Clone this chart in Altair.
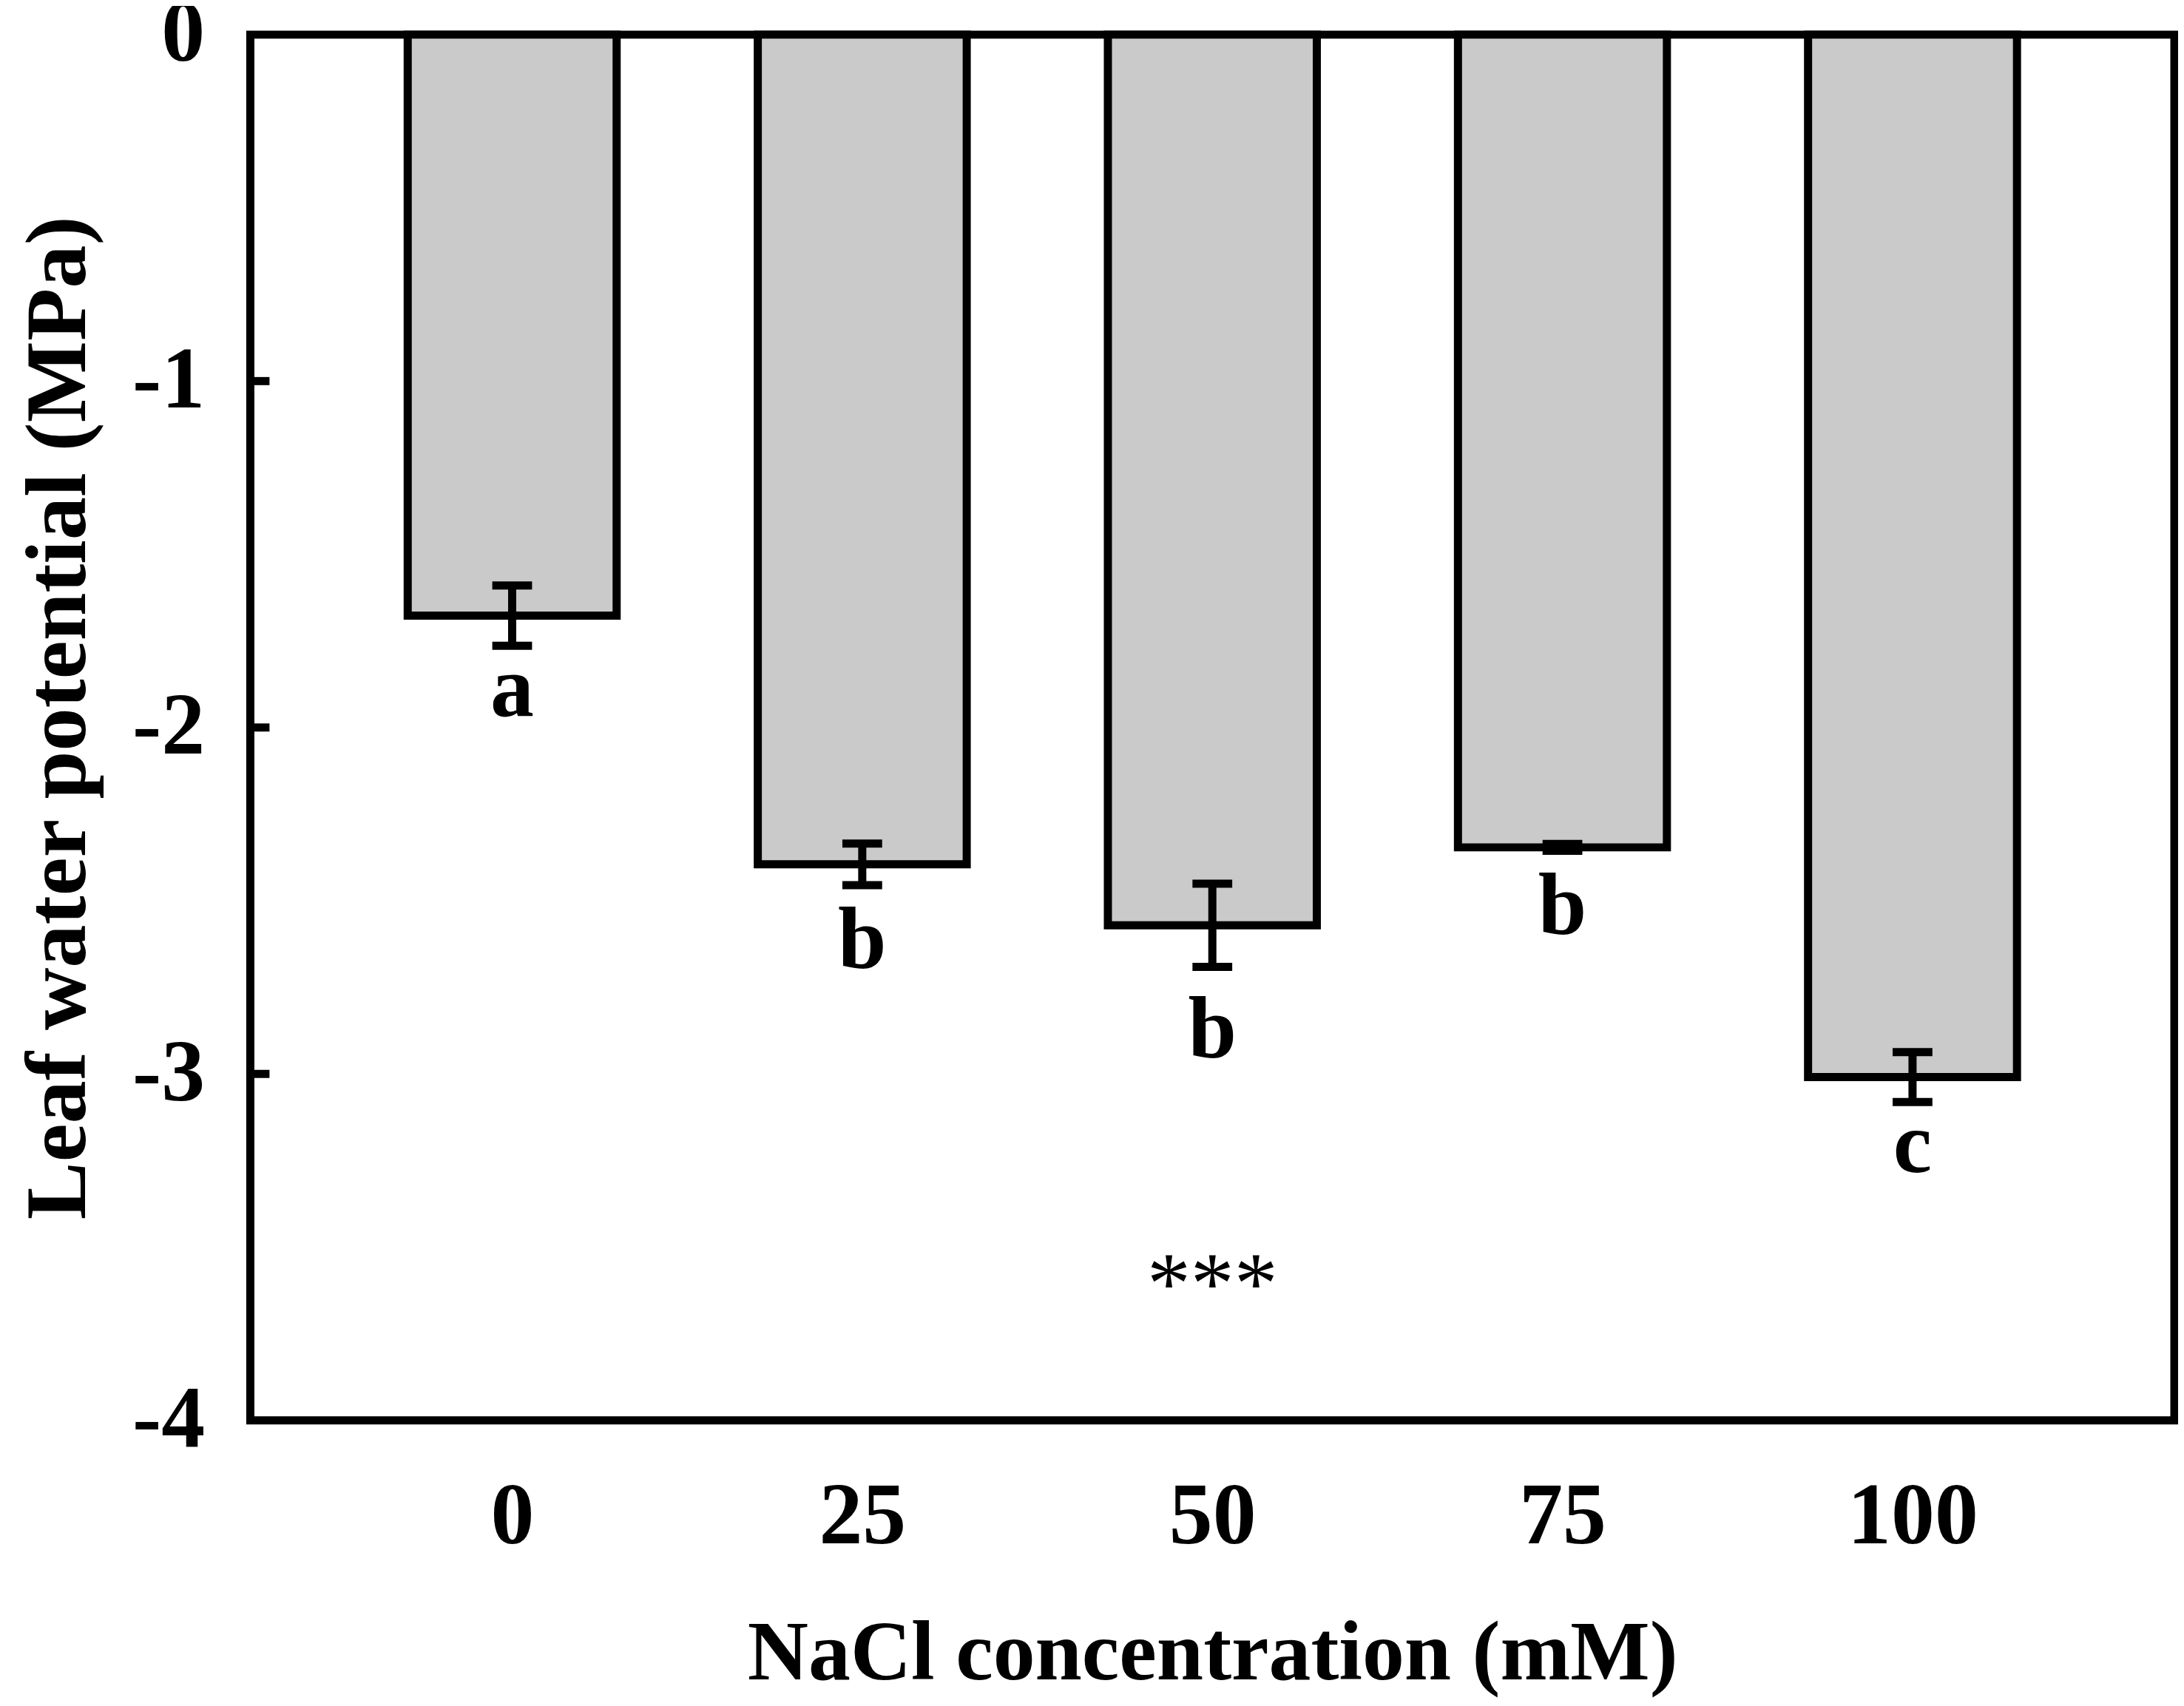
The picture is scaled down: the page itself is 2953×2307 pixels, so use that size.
import altair as alt
import pandas as pd

# ---- data ----
conc = [0, 25, 50, 75, 100]
mean = [-1.677, -2.395, -2.571, -2.346, -3.009]
err = [0.087, 0.060, 0.120, 0.010, 0.072]
letters = ["a", "b", "b", "b", "c"]
letter_y = [-1.967, -2.692, -2.951, -2.594, -3.283]
y_ticks = [0, -1, -2, -3, -4]
inner_ticks = [-1, -2, -3]
star_x = [50]
star_y = [-3.69]
star_text = ["***"]

FONT = "Liberation Serif"
FS = 118
XTFS = 114
YTFS = 117
BAR_HALF = 7.46
CAP_HALF = 1.42
SW = 11

df = pd.DataFrame({"conc": conc, "mean": mean, "err": err,
                   "letter": letters, "ly": letter_y})

xscale = alt.Scale(domain=[-18.7, 118.7], nice=False, zero=False)
yscale = alt.Scale(domain=[-4, 0], nice=False, zero=False)

X_AXIS = alt.Axis(values=conc, title="NaCl concentration (mM)",
                  domain=False, grid=False, ticks=False, tickSize=0,
                  labelFont=FONT, labelFontWeight="bold", labelFontSize=FS,
                  labelColor="black", labelBaseline="alphabetic",
                  labelPadding=166, labelFlush=False,
                  labelExpr="'' + datum.value",
                  titleFont=FONT, titleFontWeight="bold", titleFontSize=XTFS,
                  titleColor="black", titleBaseline="alphabetic",
                  titleY=350)
Y_AXIS = alt.Axis(values=y_ticks, title="Leaf water potential (MPa)",
                  domain=False, grid=False, ticks=False, tickSize=0,
                  labelFont=FONT, labelFontWeight="bold", labelFontSize=FS,
                  labelColor="black", labelBaseline="middle",
                  labelPadding=62, labelFlush=False,
                  labelExpr="'' + datum.value",
                  titleFont=FONT, titleFontWeight="bold", titleFontSize=YTFS,
                  titleColor="black", titleAngle=270,
                  titleBaseline="alphabetic", titleAlign="center",
                  titleX=-224, titleY=925)

base = alt.Chart(df)

bars = base.transform_calculate(
    x1=f"datum.conc - {BAR_HALF}", x2=f"datum.conc + {BAR_HALF}", zero="0"
).mark_bar(fill="#cacaca", stroke="black", strokeWidth=SW).encode(
    x=alt.X("x1:Q", scale=xscale, axis=X_AXIS),
    x2="x2:Q",
    y=alt.Y("mean:Q", scale=yscale, axis=Y_AXIS),
    y2="zero:Q",
)

stems = base.transform_calculate(
    lo="datum.mean - datum.err", hi="datum.mean + datum.err"
).mark_rule(color="black", strokeWidth=SW).encode(
    x=alt.X("conc:Q", scale=xscale, axis=X_AXIS),
    y=alt.Y("lo:Q", scale=yscale, axis=Y_AXIS),
    y2="hi:Q",
)

caps_lo = base.transform_calculate(
    a=f"datum.conc - {CAP_HALF}", b=f"datum.conc + {CAP_HALF}",
    v="datum.mean - datum.err"
).mark_rule(color="black", strokeWidth=SW).encode(
    x=alt.X("a:Q", scale=xscale, axis=X_AXIS), x2="b:Q",
    y=alt.Y("v:Q", scale=yscale, axis=Y_AXIS),
)

caps_hi = base.transform_calculate(
    a=f"datum.conc - {CAP_HALF}", b=f"datum.conc + {CAP_HALF}",
    v="datum.mean + datum.err"
).mark_rule(color="black", strokeWidth=SW).encode(
    x=alt.X("a:Q", scale=xscale, axis=X_AXIS), x2="b:Q",
    y=alt.Y("v:Q", scale=yscale, axis=Y_AXIS),
)

labels = base.mark_text(font=FONT, fontWeight="bold", fontSize=FS,
                        baseline="alphabetic", align="center", color="black").encode(
    x=alt.X("conc:Q", scale=xscale, axis=X_AXIS),
    y=alt.Y("ly:Q", scale=yscale, axis=Y_AXIS),
    text="letter:N",
)

stars = alt.Chart(pd.DataFrame({"x": star_x, "y": star_y, "t": star_text})).mark_text(
    font=FONT, fontWeight="normal", fontSize=FS, baseline="alphabetic",
    align="center", color="black").encode(
    x=alt.X("x:Q", scale=xscale, axis=X_AXIS),
    y=alt.Y("y:Q", scale=yscale, axis=Y_AXIS),
    text="t:N",
)

ticks_in = alt.Chart(pd.DataFrame({"t": inner_ticks})).mark_rule(
    color="black", strokeWidth=SW).encode(
    y=alt.Y("t:Q", scale=yscale, axis=Y_AXIS),
    x=alt.value(0), x2=alt.value(26),
)

chart = alt.layer(bars, stems, caps_lo, caps_hi, ticks_in, labels, stars).properties(
    width=2606, height=1877,
    autosize=alt.AutoSizeParams(type="none"),
    padding={"left": 331, "top": 37, "right": 5, "bottom": 376},
    background="white",
).configure_view(stroke="black", strokeWidth=SW, fill=None)

chart.save("out.html", embed_options={"renderer": "svg", "actions": False})
